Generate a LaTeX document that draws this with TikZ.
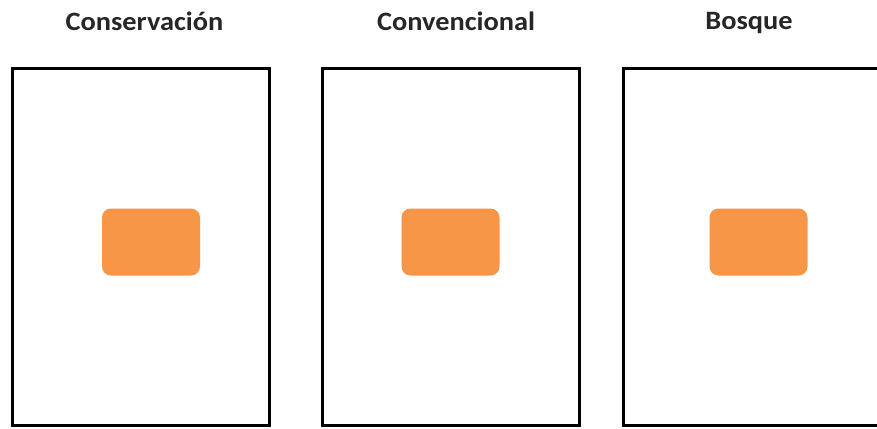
\documentclass[tikz,border=0pt]{standalone}
\usepackage{fontspec}
\setmainfont{Carlito}
\newfontfamily\titlefont[FakeStretch=1.07]{Carlito}
\begin{document}
\begin{tikzpicture}[x=1pt,y=-1pt,
  panel/.style={draw=black,line width=3.5pt,fill=white,inner sep=0pt,minimum width=257pt,minimum height=357pt},
  plot/.style={fill=orangefill,draw=none,rounded corners=9pt,inner sep=0pt,minimum width=98pt,minimum height=67pt},
  title/.style={font=\titlefont\bfseries\fontsize{26.5}{30}\selectfont,text=black!85,inner sep=0pt,anchor=base}]
\definecolor{orangefill}{HTML}{F79646}
\useasboundingbox (0,0) rectangle (877,428);
\clip (0,0) rectangle (877,428);
\fill[white] (0,0) rectangle (877,428);
\node[panel] (p1) at (141,247) {};
\node[panel] (p2) at (451,247) {};
\node[panel] (p3) at (752,247) {};
\node[plot] (o1) at (151,242) {};
\node[plot] (o2) at (450.5,242) {};
\node[plot] (o3) at (758.5,242) {};
\node[title] (t1) at (144.5,31) {Conservación};
\node[title] (t2) at (456,31) {Convencional};
\node[title] (t3) at (749,30) {Bosque};
\end{tikzpicture}
\end{document}
